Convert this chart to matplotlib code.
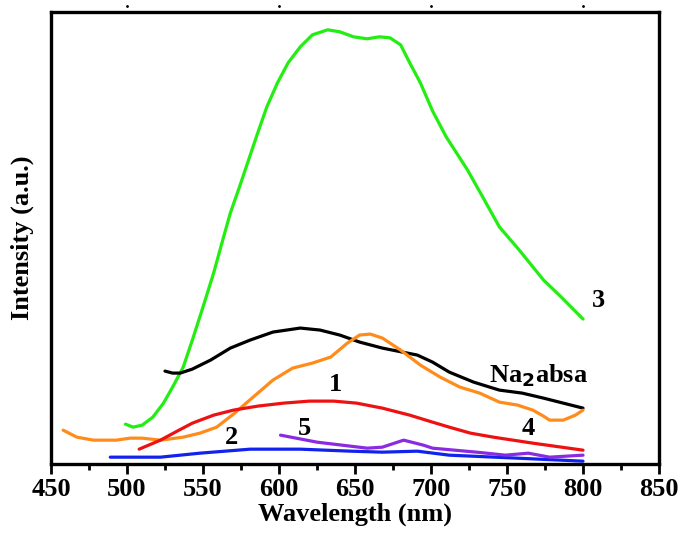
import matplotlib
matplotlib.use("Agg")
import matplotlib.pyplot as plt

plt.rcParams['font.family'] = ['Liberation Serif', 'DejaVu Serif']
plt.rcParams['font.weight'] = 'bold'
plt.rcParams['lines.solid_joinstyle'] = 'round'
plt.rcParams['lines.solid_capstyle'] = 'round'

# curve 3 (green)
wl3 = [499, 504, 510, 517, 524, 530, 537, 543, 550, 557, 563, 568, 574, 580, 586, 592,
       599, 606, 614, 622, 632, 640, 649, 658, 666, 673, 680, 686, 693, 701, 710, 724,
       734, 745, 758, 774, 785, 800]
i3 = [40, 37, 39, 47, 61, 77, 97, 124, 157, 191, 224, 251, 277, 304, 331, 357,
      381, 401, 417, 429, 434, 432, 427, 425, 427, 426, 419, 401, 381, 353, 327, 294,
      267, 237, 214, 184, 168, 145]

# Na2absa (black)
wl_na = [525, 530, 535, 543, 555, 568, 581, 596, 614, 627, 640, 653, 668, 691, 701, 712, 728,
         745, 760, 774, 800]
i_na = [93, 91, 91, 95, 104, 116, 124, 132, 136, 134, 129, 122, 116, 109, 102, 92, 82,
        74, 71, 66, 56]

# curve 4 (orange)
wl4 = [458, 467, 478, 493, 502, 510, 522, 537, 548, 559, 570, 583, 596, 609, 622, 634,
       645, 653, 660, 668, 680, 693, 706, 719, 732, 745, 757, 767, 774, 778, 787, 795, 800]
i4 = [34, 27, 24, 24, 26, 26, 24, 27, 31, 37, 50, 67, 84, 96, 101, 107,
      121, 129, 130, 126, 114, 99, 87, 77, 71, 62, 59, 54, 48, 44, 44, 49, 54]

# curve 1 (red)
wl1 = [508, 522, 533, 543, 557, 570, 586, 603, 620, 636, 651, 668, 686, 701, 712, 726,
       741, 767, 800]
i1 = [15, 24, 33, 41, 49, 54, 58, 61, 63, 63, 61, 56, 49, 42, 37, 31,
      27, 21, 14]

# curve 2 (blue)
wl2 = [489, 522, 548, 581, 614, 647, 668, 691, 712, 757, 800]
i2 = [7, 7, 11, 15, 15, 13, 12, 13, 9, 6, 3]

# curve 5 (purple)
wl5 = [601, 625, 658, 668, 682, 695, 701, 730, 749, 764, 778, 800]
i5 = [29, 22, 16, 17, 24, 19, 16, 12, 9, 11, 7, 9]

fig = plt.figure(figsize=(6.78, 5.36), dpi=100)
ax = fig.add_axes([0.0752, 0.134, 0.8968, 0.844])

lw = 2.3
ax.plot(wl3, i3, color='#22ee11', lw=lw)
ax.plot(wl_na, i_na, color='black', lw=lw)
ax.plot(wl4, i4, color='#ff8c1a', lw=lw)
ax.plot(wl1, i1, color='#ee1111', lw=lw)
ax.plot(wl2, i2, color='#1122ee', lw=lw)
ax.plot(wl5, i5, color='#8a2be2', lw=lw)

fs = 19
ax.text(810, 164, '3', fontsize=fs, ha='center', va='center', fontweight='bold')
ax.text(771, 88, 'Na$_\\mathbf{2}$absa', fontsize=fs, ha='center', va='center', fontweight='bold')
ax.text(637, 80, '1', fontsize=fs, ha='center', va='center', fontweight='bold')
ax.text(764, 36, '4', fontsize=fs, ha='center', va='center', fontweight='bold')
ax.text(569, 27, '2', fontsize=fs, ha='center', va='center', fontweight='bold')
ax.text(617, 36, '5', fontsize=fs, ha='center', va='center', fontweight='bold')

ax.set_xlim(450, 850)
ax.set_ylim(0, 452)
ax.set_xticks(range(450, 851, 50))
ax.set_xticks(range(475, 850, 50), minor=True)
ax.set_yticks([])
ax.tick_params(axis='x', which='major', direction='out', length=7, width=2, labelsize=fs, pad=3)
ax.tick_params(axis='x', which='minor', direction='out', length=4, width=2)
ax.tick_params(top=False)
for s in ax.spines.values():
    s.set_linewidth(2.4)

# small marks above the top frame
for xm in [500, 600, 700, 800]:
    ax.plot(xm, 458, marker='.', color='black', ms=2, clip_on=False)

ax.set_xlabel('Wavelength (nm)', fontsize=fs, fontweight='bold', labelpad=1)
ax.set_ylabel('Intensity (a.u.)', fontsize=fs, fontweight='bold', labelpad=12)

fig.savefig('out.png', dpi=100)
